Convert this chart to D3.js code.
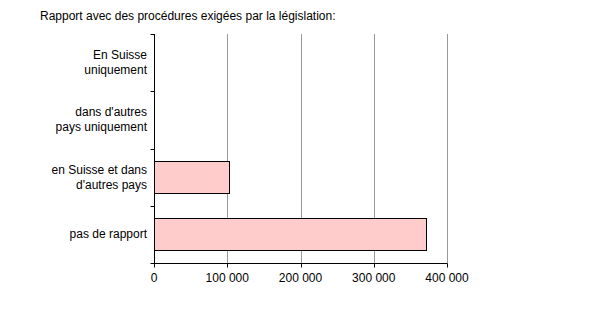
<!DOCTYPE html>
<html>
<head>
<meta charset="utf-8">
<script src="https://cdn.jsdelivr.net/npm/d3@7"></script>
<style>
  body { margin: 0; background: #fff; }
  text { font-family: "Liberation Sans", Arial, sans-serif; font-size: 12px; fill: #000; }
</style>
</head>
<body>
<div id="chart"></div>
<script>
// Data
var categories = [
    ["En Suisse", "uniquement"],
    ["dans d'autres", "pays uniquement"],
    ["en Suisse et dans", "d'autres pays"],
    ["pas de rapport"]
];
var values = [0, 0, 103000, 371000];
var xTicks = [0, 100000, 200000, 300000, 400000];
var title = "Rapport avec des procédures exigées par la législation:";

var width = 601, height = 318;
var margin = {top: 34, left: 154, right: 154, bottom: 55};

var svg = d3.select("#chart").append("svg")
    .attr("width", width)
    .attr("height", height);

var x = d3.scaleLinear()
    .domain([0, 400000])
    .range([margin.left, 447]);

var y = d3.scaleBand()
    .domain(d3.range(categories.length))
    .range([margin.top, 263])
    .paddingInner(0.44)
    .paddingOuter(0.22);

var fmt = function (d) {
    return d3.format(",")(d).replace(/,/g, " ");
};

// Title
svg.append("text")
    .attr("x", 40)
    .attr("y", 20)
    .text(title);

// Gridlines
svg.selectAll(".grid")
    .data(xTicks.slice(1))
    .enter().append("line")
    .attr("x1", function (d) { return Math.round(x(d)) + 0.5; })
    .attr("x2", function (d) { return Math.round(x(d)) + 0.5; })
    .attr("y1", margin.top)
    .attr("y2", 263)
    .attr("stroke", "#999")
    .attr("stroke-width", 1);

// Bars
svg.selectAll(".bar")
    .data(values)
    .enter().append("rect")
    .filter(function (d) { return d > 0; })
    .attr("x", x(0) + 0.5)
    .attr("y", function (d, i) { return Math.round(y(values.indexOf(d))) + 0.5; })
    .attr("width", function (d) { return Math.round(x(d) - x(0)); })
    .attr("height", Math.round(y.bandwidth()))
    .attr("fill", "#ffcccc")
    .attr("stroke", "#000")
    .attr("stroke-width", 1);

// X axis
var xAxis = svg.append("g")
    .attr("transform", "translate(0,263.5)");
xAxis.append("line")
    .attr("x1", x(0)).attr("x2", x(400000) + 0.5)
    .attr("stroke", "#000");
xAxis.selectAll(".tick")
    .data(xTicks)
    .enter().append("line")
    .attr("x1", function (d) { return Math.round(x(d)) + 0.5; })
    .attr("x2", function (d) { return Math.round(x(d)) + 0.5; })
    .attr("y1", 0).attr("y2", 4)
    .attr("stroke", "#000");
xAxis.selectAll(".label")
    .data(xTicks)
    .enter().append("text")
    .attr("x", function (d) { return x(d); })
    .attr("y", 18)
    .attr("text-anchor", "middle")
    .text(fmt);

// Y axis
var yAxis = svg.append("g")
    .attr("transform", "translate(" + (margin.left + 0.5) + ",0)");
yAxis.append("line")
    .attr("y1", margin.top).attr("y2", 264)
    .attr("stroke", "#000");
var edges = d3.range(categories.length + 1).map(function (i) {
    return margin.top + (263 - margin.top) * i / categories.length;
});
yAxis.selectAll(".tick")
    .data(edges)
    .enter().append("line")
    .attr("x1", -4).attr("x2", 0)
    .attr("y1", function (d) { return Math.round(d) + 0.5; })
    .attr("y2", function (d) { return Math.round(d) + 0.5; })
    .attr("stroke", "#000");

var labels = svg.selectAll(".cat")
    .data(categories)
    .enter().append("text")
    .attr("text-anchor", "end")
    .attr("transform", function (d, i) {
        var c = (edges[i] + edges[i + 1]) / 2;
        return "translate(147," + c + ")";
    });
labels.selectAll("tspan")
    .data(function (d) { return d; })
    .enter().append("tspan")
    .attr("x", 0)
    .attr("y", function (d, i, n) {
        return (i - (n.length - 1) / 2) * 15 + 4;
    })
    .text(function (d) { return d; });
</script>
</body>
</html>
